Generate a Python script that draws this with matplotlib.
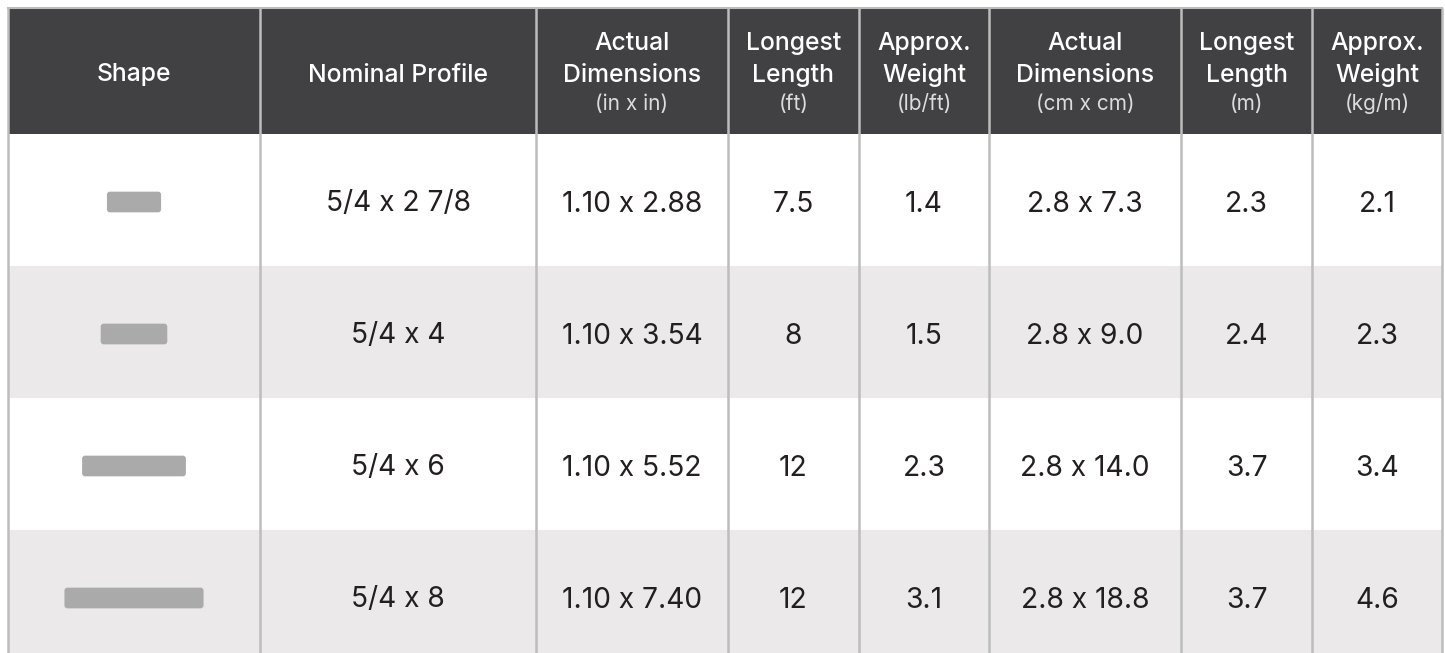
"""
Profile size table: shapes, nominal profiles, dimensions, lengths and weights.
Output: out.png
"""
import matplotlib
matplotlib.use("Agg")
import matplotlib.pyplot as plt
from matplotlib.patches import Rectangle, FancyBboxPatch

# --- table data ---
nominal = ["5/4 x 2 7/8", "5/4 x 4", "5/4 x 6", "5/4 x 8"]
thick_in = [1.10, 1.10, 1.10, 1.10]
width_in = [2.88, 3.54, 5.52, 7.40]
length_ft = ["7.5", "8", "12", "12"]
weight_lbft = ["1.4", "1.5", "2.3", "3.1"]
thick_cm = [2.8, 2.8, 2.8, 2.8]
width_cm = [7.3, 9.0, 14.0, 18.8]
length_m = ["2.3", "2.4", "3.7", "3.7"]
weight_kgm = ["2.1", "2.3", "3.4", "4.6"]

headers = ["Shape", "Nominal Profile", "Actual\nDimensions", "Longest\nLength",
           "Approx.\nWeight", "Actual\nDimensions", "Longest\nLength", "Approx.\nWeight"]
units = [None, None, "(in x in)", "(ft)", "(lb/ft)", "(cm x cm)", "(m)", "(kg/m)"]

# --- layout (pixels) ---
W, H = 1445, 653
col_edges = [8, 260, 536, 728, 859, 989, 1181, 1312, 1442]
top, head_bot, row_h = 8, 134, 132
px_per_in = 18.8

HEAD_BG = "#414042"
STRIPE = "#ebe9ea"
GRID = "#bdbdbd"
SHAPE = "#aaaaaa"
TEXT = "#231f20"
FONT = ["Inter", "Lato", "DejaVu Sans"]

fig = plt.figure(figsize=(W / 100, H / 100), dpi=100)
ax = fig.add_axes([0, 0, 1, 1])
ax.set_xlim(0, W)
ax.set_ylim(H, 0)
ax.axis("off")

# header band
ax.add_patch(Rectangle((col_edges[0], top), col_edges[-1] - col_edges[0], head_bot - top,
                       facecolor=HEAD_BG, edgecolor="none", zorder=1))
ax.plot([col_edges[0], col_edges[-1]], [top, top], color=GRID, lw=1.5, zorder=3)

# row stripes
for i in range(len(nominal)):
    y0 = head_bot + i * row_h
    if i % 2 == 1:
        ax.add_patch(Rectangle((col_edges[0], y0), col_edges[-1] - col_edges[0], row_h,
                               facecolor=STRIPE, edgecolor="none", zorder=1))

# vertical grid lines
for x in col_edges:
    ax.plot([x, x], [top, H + 20], color=GRID, lw=1.8, zorder=3, solid_capstyle="butt")

# header text
centers = [(a + b) / 2 for a, b in zip(col_edges[:-1], col_edges[1:])]
for cx, head, unit in zip(centers, headers, units):
    if unit is None:
        ax.text(cx, 81.5, head, ha="center", va="baseline", color="white", fontsize=17.8,
                fontweight="medium", family=FONT, zorder=4)
    else:
        l1, l2 = head.split("\n")
        ax.text(cx, 50, l1, ha="center", va="baseline", color="white", fontsize=17.8,
                fontweight="medium", family=FONT, zorder=4)
        ax.text(cx, 82, l2, ha="center", va="baseline", color="white", fontsize=17.8,
                fontweight="medium", family=FONT, zorder=4)
        ax.text(cx, 110, unit, ha="center", va="baseline", color="#dcdcdc", fontsize=15,
                fontweight="normal", family=FONT, zorder=4)

# body rows
for i in range(len(nominal)):
    cy = head_bot + i * row_h + row_h / 2
    w = width_in[i] * px_per_in
    h = thick_in[i] * px_per_in
    ax.add_patch(FancyBboxPatch((centers[0] - w / 2, cy - h / 2 + 2), w, h,
                                boxstyle="round,pad=0,rounding_size=3",
                                facecolor=SHAPE, edgecolor="none", zorder=2))
    cells = [nominal[i],
             f"{thick_in[i]:.2f} x {width_in[i]:.2f}",
             length_ft[i], weight_lbft[i],
             f"{thick_cm[i]:.1f} x {width_cm[i]:.1f}",
             length_m[i], weight_kgm[i]]
    for cx, s in zip(centers[1:], cells):
        ax.text(cx, cy + 11.5, s, ha="center", va="baseline", color=TEXT, fontsize=20.3,
                family=FONT, zorder=4)

fig.savefig("out.png", dpi=100)
plt.close(fig)
print("Saved out.png")
